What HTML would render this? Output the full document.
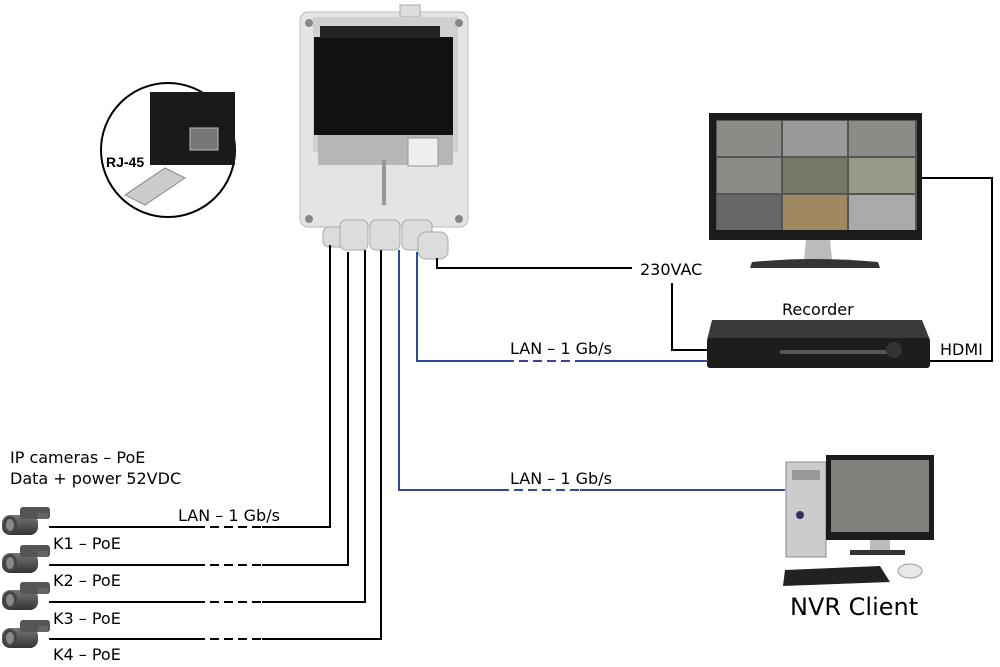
<!DOCTYPE html>
<html><head><style>
body{margin:0;background:#fff;}
svg{display:block;font-family:"DejaVu Sans","Liberation Sans",sans-serif;}
</style></head><body>
<svg width="1000" height="667" viewBox="0 0 1000 667">
<defs>
<linearGradient id="cam" x1="0" y1="0" x2="0" y2="1"><stop offset="0" stop-color="#777"/><stop offset="1" stop-color="#333"/></linearGradient>
<g id="camera">
<rect x="0" y="10" width="36" height="20" rx="8" fill="url(#cam)"/>
<rect x="18" y="2" width="30" height="12" rx="3" fill="#555"/>
<rect x="36" y="8" width="10" height="6" fill="#666"/>
<ellipse cx="8" cy="20" rx="7" ry="9" fill="#444"/>
<ellipse cx="8" cy="20" rx="4" ry="6" fill="#888"/>
</g>
</defs>

<rect x="300" y="12" width="168" height="215" rx="8" fill="#e4e4e2" stroke="#bbb"/>
<rect x="400" y="5" width="20" height="12" fill="#ddd" stroke="#aaa"/>
<rect x="313" y="17" width="145" height="135" fill="#d0d0ce"/>
<rect x="314" y="37" width="139" height="98" fill="#111"/>
<rect x="320" y="26" width="120" height="12" fill="#222"/>
<rect x="318" y="135" width="135" height="30" fill="#b4b6b8"/>
<rect x="408" y="138" width="30" height="28" fill="#eee" stroke="#999"/>
<rect x="382" y="160" width="4" height="45" fill="#999"/>
<circle cx="309" cy="23" r="4" fill="#888"/><circle cx="459" cy="23" r="4" fill="#888"/>
<circle cx="309" cy="219" r="4" fill="#888"/><circle cx="459" cy="219" r="4" fill="#888"/>
<g fill="#dcdcdc" stroke="#aaa">
<rect x="323" y="227" width="25" height="20" rx="6"/>
<rect x="340" y="220" width="28" height="30" rx="6"/>
<rect x="370" y="220" width="30" height="30" rx="6"/>
<rect x="402" y="220" width="30" height="30" rx="6"/>
<rect x="418" y="232" width="30" height="27" rx="8"/>
</g>

<circle cx="168" cy="150" r="67" fill="#fff" stroke="#000" stroke-width="2"/>
<path d="M150 92 L235 92 L235 165 L150 165 Z" fill="#1a1a1a"/>
<rect x="190" y="128" width="28" height="22" fill="#777" stroke="#bbb"/>
<path d="M125 195 L165 168 L185 178 L145 205 Z" fill="#ccc" stroke="#888"/>
<text x="106" y="167" font-size="14" font-weight="bold" font-family="Liberation Sans, sans-serif">RJ-45</text>

<rect x="709" y="113" width="213" height="127" fill="#1b1b1b"/>
<rect x="716" y="120" width="201" height="110" fill="#555"/>
<g fill="#8a8c88">
<rect x="717" y="121" width="64" height="35"/><rect x="783" y="121" width="64" height="35" fill="#999"/><rect x="849" y="121" width="66" height="35"/>
<rect x="717" y="158" width="64" height="35"/><rect x="783" y="158" width="64" height="35" fill="#776"/><rect x="849" y="158" width="66" height="35" fill="#998"/>
<rect x="717" y="195" width="64" height="35" fill="#666"/><rect x="783" y="195" width="64" height="35" fill="#a08860"/><rect x="849" y="195" width="66" height="35" fill="#aaa"/>
</g>
<path d="M806 240 L830 240 L832 260 L804 260 Z" fill="#bbb"/>
<path d="M752 262 Q815 256 878 262 L880 268 L750 268 Z" fill="#333"/>

<path d="M712 320 L922 320 L930 340 L707 340 Z" fill="#3a3a3a"/>
<rect x="707" y="338" width="223" height="30" rx="3" fill="#1d1d1d"/>
<rect x="780" y="350" width="110" height="4" fill="#555"/>
<circle cx="894" cy="350" r="8" fill="#333"/>

<rect x="786" y="462" width="40" height="95" fill="#ccc" stroke="#888"/>
<rect x="792" y="470" width="28" height="10" fill="#999"/>
<circle cx="800" cy="515" r="4" fill="#336"/>
<rect x="826" y="455" width="108" height="85" fill="#1b1b1b"/>
<rect x="831" y="460" width="98" height="72" fill="#7f807c"/>
<rect x="870" y="540" width="20" height="12" fill="#bbb"/>
<rect x="850" y="550" width="55" height="5" fill="#333"/>
<path d="M785 570 L880 566 L890 582 L783 586 Z" fill="#222"/>
<ellipse cx="910" cy="571" rx="12" ry="7" fill="#e8e8e8" stroke="#999"/>
<text x="790" y="615" font-size="24">NVR Client</text>

<use href="#camera" x="2" y="505"/>
<use href="#camera" x="2" y="543"/>
<use href="#camera" x="2" y="580"/>
<use href="#camera" x="2" y="618"/>

<g fill="none" stroke="#000" stroke-width="2">
<path d="M49 527 H196 M262 527 H330 V245"/>
<path d="M49 565 H196 M262 565 H348 V252"/>
<path d="M49 602 H196 M262 602 H365 V250"/>
<path d="M49 639 H196 M262 639 H381 V250"/>
<g stroke-dasharray="9,5"><path d="M196 527 H262 M196 565 H262 M196 602 H262 M196 639 H262"/></g>
<path d="M437 258 V268 H632"/>
<path d="M672 283 V350 H708"/>
<path d="M922 178 H992 V361 H930"/>
</g>
<g fill="none" stroke="#2e4a9e" stroke-width="2">
<path d="M399 250 V490 H500 M580 490 H785"/>
<path d="M417 252 V361 H505 M575 361 H708"/>
<g stroke-dasharray="9,5"><path d="M500 490 H580 M505 361 H575"/></g>
</g>

<g font-size="16">
<text x="10" y="463">IP cameras – PoE</text>
<text x="10" y="484">Data + power 52VDC</text>
<text x="178" y="521">LAN – 1 Gb/s</text>
<text x="53" y="549">K1 – PoE</text>
<text x="53" y="586">K2 – PoE</text>
<text x="53" y="624">K3 – PoE</text>
<text x="53" y="660">K4 – PoE</text>
<text x="510" y="484">LAN – 1 Gb/s</text>
<text x="510" y="354">LAN – 1 Gb/s</text>
<text x="640" y="275">230VAC</text>
<text x="782" y="315">Recorder</text>
<text x="940" y="355">HDMI</text>
</g>
</svg>
</body></html>
